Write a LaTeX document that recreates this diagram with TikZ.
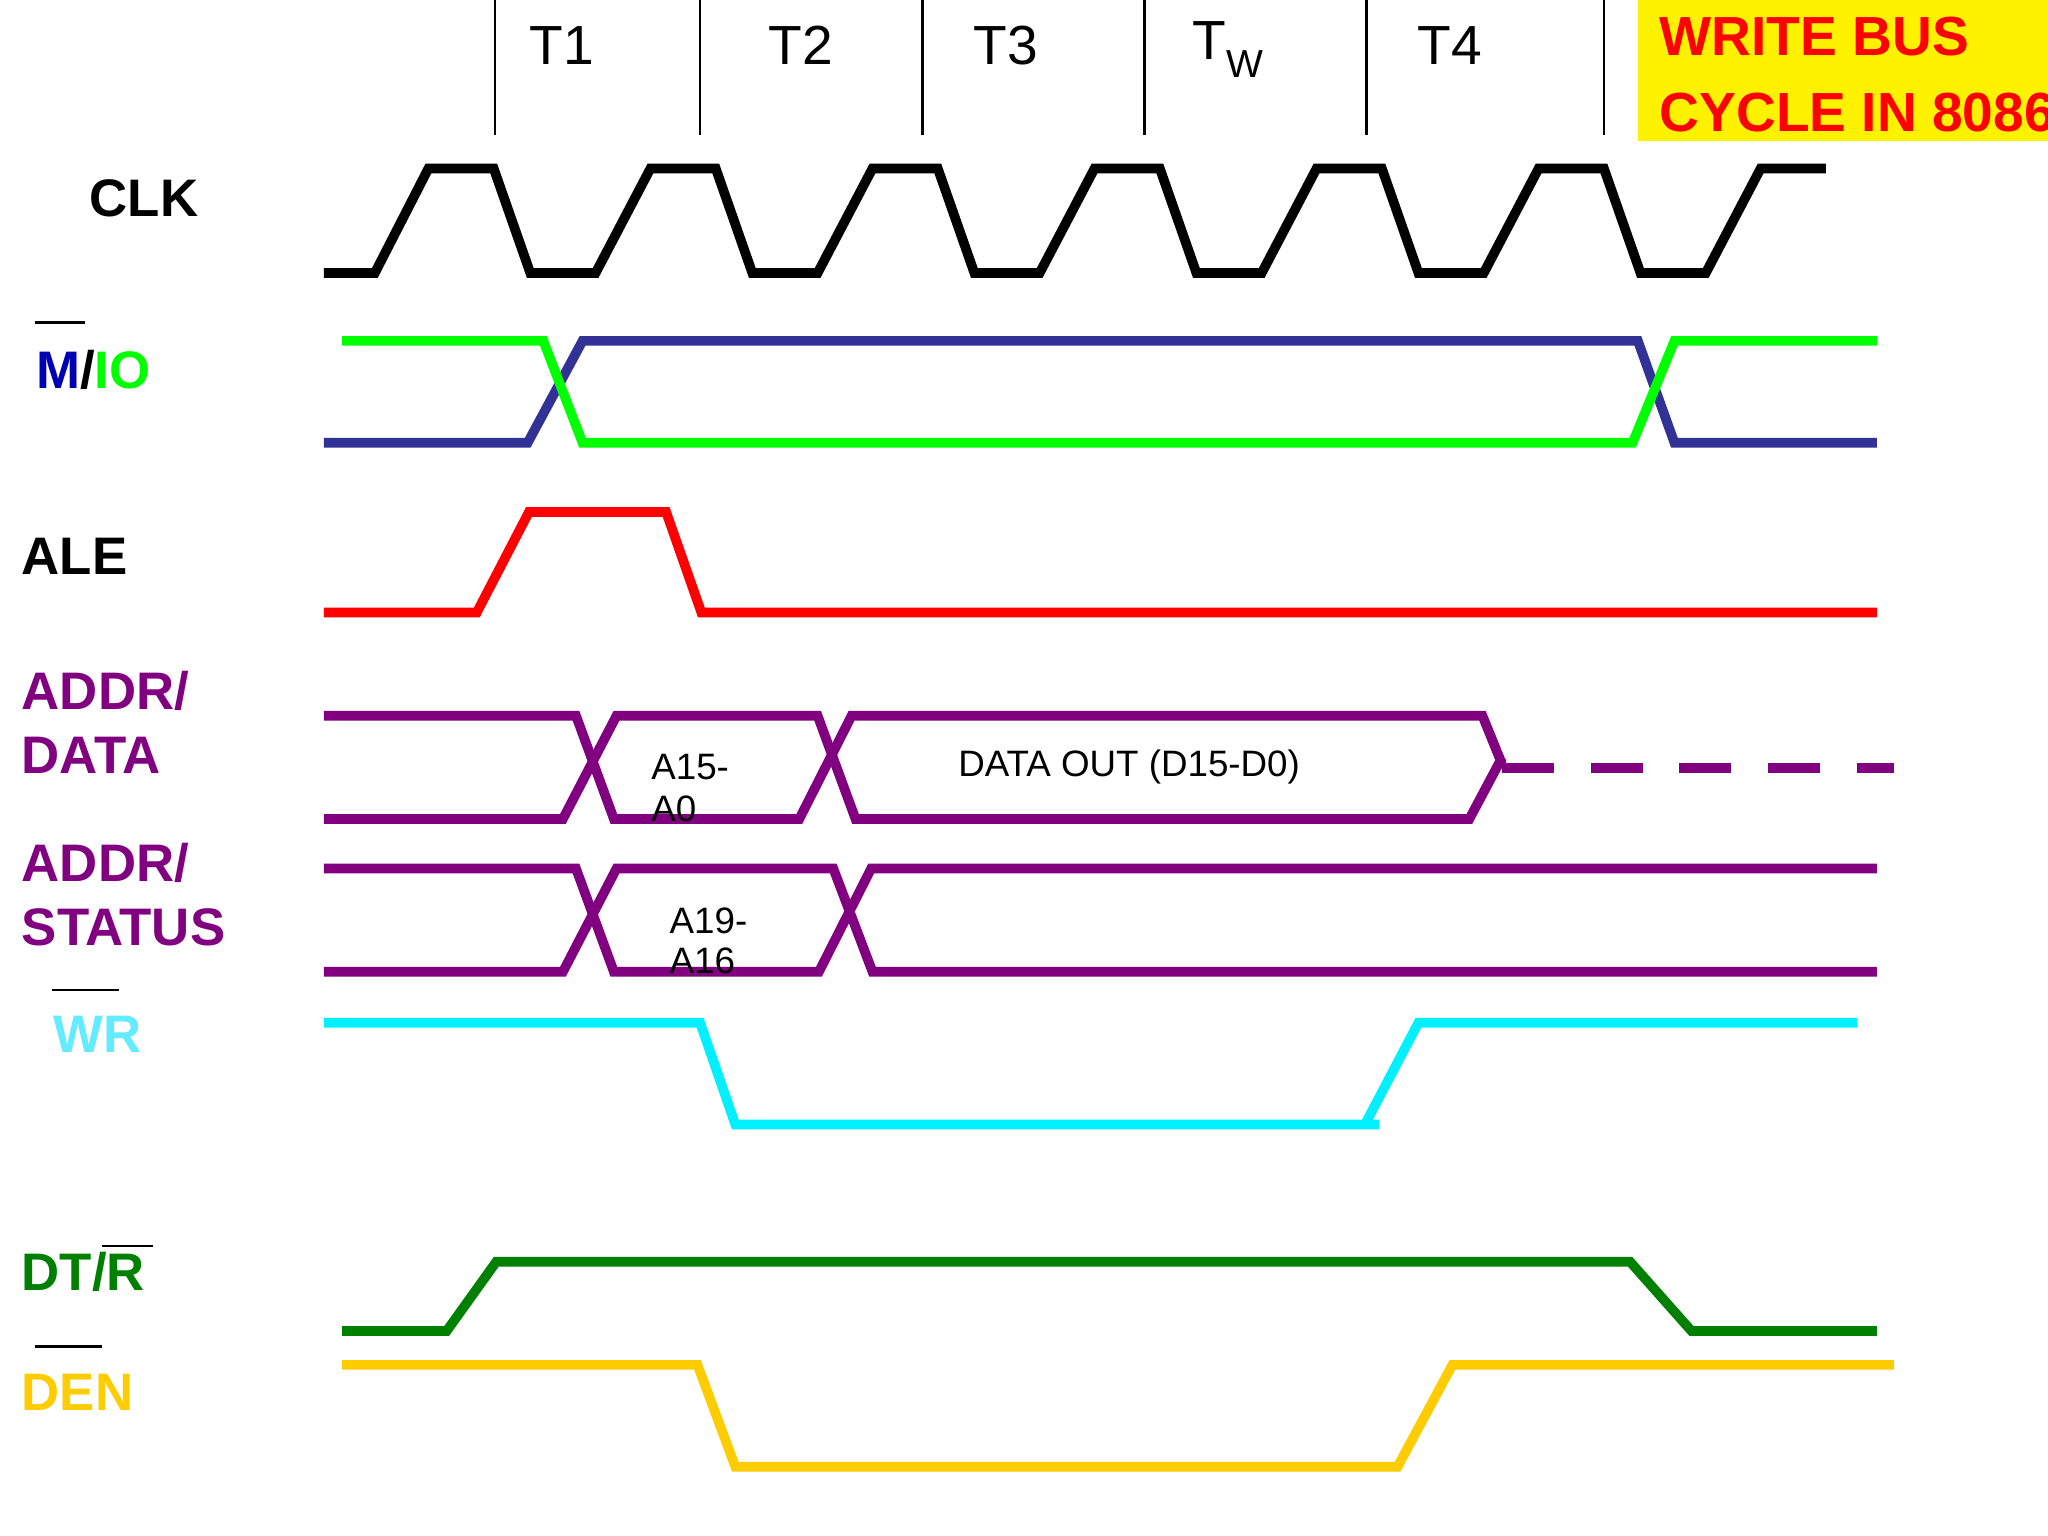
\documentclass[tikz,border=0pt]{standalone}
\usepackage{fontspec}
\setmainfont{Liberation Sans}
\begin{document}
\begin{tikzpicture}[x=0.01cm,y=-0.01cm,
  sig/.style={line width=2.1pt,line join=miter},
  lbl/.style={anchor=west,font=\fontsize{11.5}{13}\selectfont\bfseries,inner sep=0pt},
  tl/.style={font=\fontsize{12}{14}\selectfont,inner sep=0pt},
  sm/.style={anchor=west,font=\fontsize{8}{10}\selectfont,inner sep=0pt},
  ol/.style={line width=0.6pt}]
\definecolor{mblue}{RGB}{50,50,150}
\definecolor{mgreen}{RGB}{0,255,0}
\definecolor{purp}{RGB}{128,0,128}
\definecolor{cyanl}{RGB}{0,240,255}
\definecolor{wrl}{RGB}{100,235,255}
\definecolor{dgreen}{RGB}{0,128,0}
\definecolor{gold}{RGB}{255,204,0}
\useasboundingbox (0,0) rectangle (1568,1176);
% header
\foreach \x in {379,536,706,876,1046,1228} \draw[line width=0.6pt] (\x,0) -- (\x,103);
\node[tl] (t1) at (430,35) {T1};
\node[tl] (t2) at (613,35) {T2};
\node[tl] (t3) at (770,35) {T3};
\node[tl] (tw) at (940,38) {T\raisebox{-0.6ex}{\fontsize{8.5}{10}\selectfont W}};
\node[tl] (t4) at (1110,35) {T4};
\fill[yellow] (1254,0) rectangle (1568,108);
\node[anchor=west,font=\fontsize{12}{16.5}\selectfont\bfseries,text=red,align=left,inner sep=0pt] (title) at (1270,57) {WRITE BUS\\CYCLE IN 8086};
% labels
\node[lbl] (clk) at (68,152) {CLK};
\node[lbl] (mio) at (27,283) {\textcolor{blue!70!black}{M}/\textcolor{mgreen}{IO}};
\draw[ol] (27,247) -- (65,247);
\node[lbl] (ale) at (16,426) {ALE};
\node[lbl,text=purp,align=left] (ad) at (16,553) {ADDR/\\[1pt]DATA};
\node[lbl,text=purp,align=left] (as) at (16,685) {ADDR/\\[1pt]STATUS};
\node[lbl,text=wrl] (wr) at (40,792) {WR};
\draw[ol] (40,758) -- (91,758);
\node[lbl,text=dgreen] (dtr) at (16,974) {DT/R};
\draw[ol] (78,954) -- (117,954);
\node[lbl,text=gold] (den) at (16,1066) {DEN};
\draw[ol] (27,1031) -- (78,1031);
% CLK
\draw[sig] (248,209) -- (287,209)
 \foreach \i in {0,...,5} {-- ({328+170*\i},129) -- ({378+170*\i},129) -- ({406+170*\i},209) -- ({456+170*\i},209)}
 -- (1348,129) -- (1398,129);
% M/IO
\draw[sig,mblue] (248,339) -- (404,339) -- (446,261) -- (1254,261) -- (1282,339) -- (1437,339);
\draw[sig,mgreen] (262,261) -- (416,261) -- (446,339) -- (1250,339) -- (1282,261) -- (1437,261);
% ALE
\draw[sig,red] (248,469) -- (365,469) -- (405,392) -- (510,392) -- (537,469) -- (1437,469);
% ADDR/DATA
\draw[sig,purp] (248,548) -- (441,548) -- (470,627) -- (612,627) -- (652,548) -- (1135,548) -- (1150,585);
\draw[sig,purp] (248,627) -- (431,627) -- (472,548) -- (626,548) -- (655,627) -- (1125,627) -- (1150,580);
\draw[sig,purp,dash pattern=on 11.3pt off 8pt] (1150,588) -- (1450,588);
\node[sm] (a15) at (498,587) {A15-};
\node[sm] (a0) at (498,619) {A0};
\node[sm] (dout) at (733,587) {DATA OUT (D15-D0)};
% ADDR/STATUS
\draw[sig,purp] (248,665) -- (441,665) -- (470,744) -- (627,744) -- (667,665) -- (1437,665);
\draw[sig,purp] (248,744) -- (431,744) -- (472,665) -- (638,665) -- (668,744) -- (1437,744);
\node[sm] (a19) at (512,705) {A19-};
\node[sm] (a16) at (512,736) {A16};
% WR
\draw[sig,cyanl] (248,783) -- (536,783) -- (563,861) -- (1056,861);
\draw[sig,cyanl] (1045,861) -- (1086,783) -- (1422,783);
% DT/R
\draw[sig,dgreen] (262,1019) -- (342,1019) -- (380,966) -- (1248,966) -- (1295,1019) -- (1437,1019);
% DEN
\draw[sig,gold] (262,1045) -- (534,1045) -- (563,1123) -- (1070,1123) -- (1112,1045) -- (1450,1045);
\end{tikzpicture}
\end{document}
